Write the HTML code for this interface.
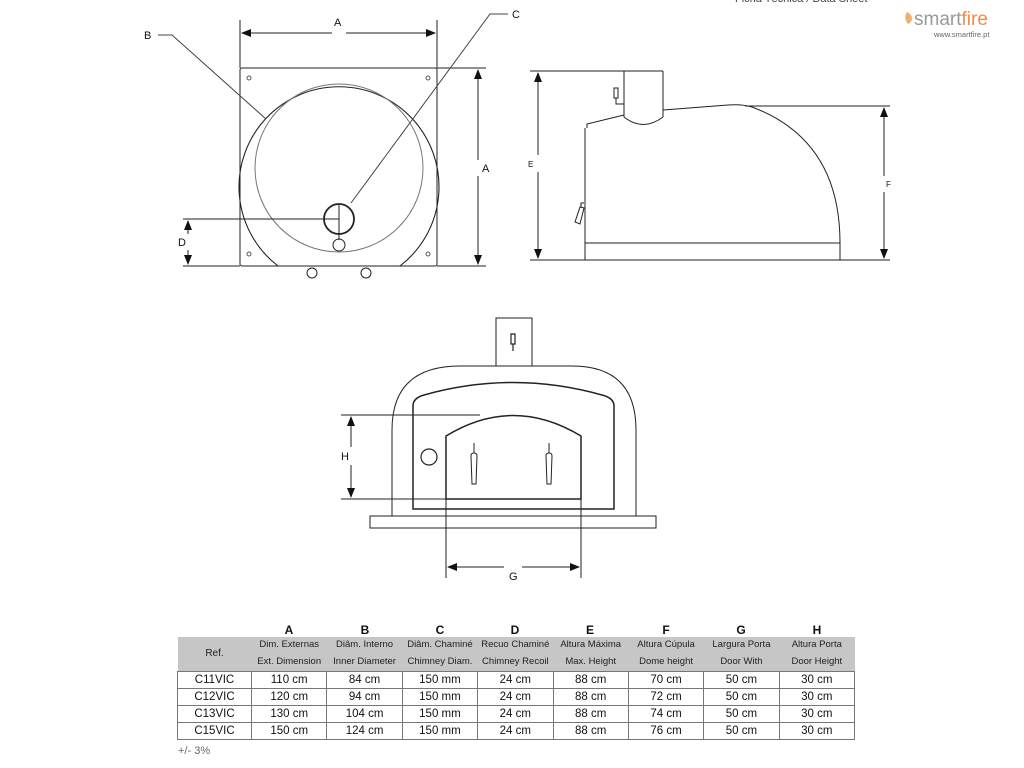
<!DOCTYPE html>
<html><head><meta charset="utf-8"><style>
body{margin:0;width:1024px;height:768px;background:#fff;overflow:hidden;font-family:"Liberation Sans",sans-serif;}
svg{position:absolute;left:0;top:0}
table{position:absolute;left:177px;top:637px;width:678px;table-layout:fixed;border-collapse:collapse;font-size:11.5px;color:#111}
td{text-align:center;padding:0;border:1px solid #777;height:16px;line-height:16px;white-space:nowrap;overflow:hidden}
tr.h td{background:#c6c6c6;font-size:9.5px;color:#222;height:16px;border-top:none;border-bottom:none;border-left:none;border-right:none}
</style></head><body>
<svg width="1024" height="768" viewBox="0 0 1024 768" font-family="Liberation Sans, sans-serif" fill="none" stroke="#222" stroke-width="1">
<defs><marker id="ar" markerWidth="10" markerHeight="8" refX="9" refY="4" orient="auto-start-reverse" markerUnits="userSpaceOnUse"><path d="M0,0 L10,4 L0,8Z" fill="#111" stroke="none"/></marker></defs>
<text x="735" y="2" font-size="11" fill="#444" stroke="none">Ficha Técnica / Data Sheet</text>
<path d="M907,12 q-4,6 1,12 q6,-3 3,-9 q-2,-2 -4,-3z" fill="#f0b070" stroke="none"/>
<text x="914" y="25" font-size="19" stroke="none"><tspan fill="#999">smart</tspan><tspan fill="#f08a50">fire</tspan></text>
<text x="934" y="37" font-size="7.5" fill="#666" stroke="none">www.smartfire.pt</text>
<!-- top view -->
<rect x="240" y="68" width="197" height="198" rx="2"/>
<path d="M278,266 A100,100 0 1 1 400,266 Z" stroke-width="1.1"/>
<circle cx="339" cy="168" r="84" stroke="#777"/>
<circle cx="339" cy="219" r="15" stroke-width="1.8"/>
<line x1="339" y1="205" x2="339" y2="240"/>
<circle cx="339" cy="245" r="6"/>
<g stroke="#555"><circle cx="249" cy="78" r="2"/><circle cx="428" cy="78" r="2"/><circle cx="249" cy="254" r="2"/><circle cx="428" cy="254" r="2"/></g>
<circle cx="312" cy="273" r="5"/><circle cx="366" cy="273" r="5"/>
<line x1="240" y1="20" x2="240" y2="68"/><line x1="437" y1="20" x2="437" y2="68"/>
<line x1="242" y1="33" x2="332" y2="33" marker-start="url(#ar)"/><line x1="346" y1="33" x2="435" y2="33" marker-end="url(#ar)"/>
<text x="334" y="26" font-size="11" fill="#111" stroke="none">A</text>
<line x1="437" y1="68" x2="486" y2="68"/><line x1="437" y1="266" x2="486" y2="266"/>
<line x1="478" y1="70" x2="478" y2="160" marker-start="url(#ar)"/><line x1="478" y1="176" x2="478" y2="264" marker-end="url(#ar)"/>
<text x="482" y="172" font-size="11" fill="#111" stroke="none">A</text>
<path d="M158,35 H172 L266,119" stroke="#444"/><text x="144" y="39" font-size="11" fill="#111" stroke="none">B</text>
<path d="M508,14 H490 L351,203" stroke="#444"/><text x="512" y="18" font-size="11" fill="#111" stroke="none">C</text>
<line x1="183" y1="219" x2="339" y2="219"/><line x1="183" y1="266" x2="240" y2="266"/>
<line x1="188" y1="221" x2="188" y2="234" marker-start="url(#ar)"/><line x1="188" y1="250" x2="188" y2="264" marker-end="url(#ar)"/>
<text x="178" y="246" font-size="11" fill="#111" stroke="none">D</text>
<!-- side view -->
<line x1="530" y1="71" x2="663" y2="71"/><line x1="530" y1="260" x2="890" y2="260"/>
<line x1="538" y1="73" x2="538" y2="155" marker-start="url(#ar)"/><line x1="538" y1="172" x2="538" y2="258" marker-end="url(#ar)"/>
<text x="528" y="167" font-size="8" fill="#111" stroke="none">E</text>
<path d="M624,71 V117 Q643,132 663,117 V71"/>
<path d="M663,110 L728,105 Q742,104 752,107 Q840,140 840,243"/>
<path d="M587,128 L587,124 L624,115"/>
<line x1="585" y1="128" x2="585" y2="260"/>
<rect x="585" y="243" width="255" height="17"/>
<path d="M614,88 h4 v10 h-4z M616,98 v6 h8" stroke-width="1"/>
<path d="M575,222 l5,-15 l4,1 l-4,16z M581,207 v-4 h3" stroke-width="1"/>
<line x1="745" y1="106" x2="890" y2="106"/>
<line x1="884" y1="108" x2="884" y2="176" marker-start="url(#ar)"/><line x1="884" y1="192" x2="884" y2="258" marker-end="url(#ar)"/>
<text x="886" y="187" font-size="8" fill="#111" stroke="none">F</text>
<!-- front view -->
<rect x="496" y="318" width="36" height="48"/>
<path d="M511,334 h4 v10 h-4z M513,344 v7" stroke-width="1.2"/>
<path d="M392,516 V430 Q392,366 460,366 H572 Q636,366 636,430 V516"/>
<rect x="370" y="516" width="286" height="12"/>
<path d="M413,509 V406 Q413,398 424,395 Q513,370 602,395 Q614,398 614,406 V509 Z" stroke-width="1.5"/>
<path d="M446,499 V436 Q513,395 581,436 V499 Z" stroke-width="1.5"/>
<circle cx="429" cy="457" r="8" stroke-width="1.2"/>
<path d="M471,456 q0,-3 3,-3 q3,0 3,3 l-1,28 h-4z M474,453 v-10" stroke-width="1"/>
<path d="M546,456 q0,-3 3,-3 q3,0 3,3 l-1,28 h-4z M549,453 v-10" stroke-width="1"/>
<line x1="341" y1="415" x2="480" y2="415"/><line x1="341" y1="499" x2="446" y2="499"/>
<line x1="351" y1="417" x2="351" y2="447" marker-start="url(#ar)"/><line x1="351" y1="465" x2="351" y2="497" marker-end="url(#ar)"/>
<text x="341" y="460" font-size="11" fill="#111" stroke="none">H</text>
<line x1="446" y1="499" x2="446" y2="578"/><line x1="581" y1="499" x2="581" y2="578"/>
<line x1="448" y1="567" x2="504" y2="567" marker-start="url(#ar)"/><line x1="522" y1="567" x2="579" y2="567" marker-end="url(#ar)"/>
<text x="509" y="580" font-size="11" fill="#111" stroke="none">G</text>
<g font-size="12" font-weight="bold" fill="#111" stroke="none" text-anchor="middle">
<text x="289" y="634">A</text><text x="365" y="634">B</text><text x="440" y="634">C</text><text x="515" y="634">D</text><text x="590" y="634">E</text><text x="666" y="634">F</text><text x="741" y="634">G</text><text x="817" y="634">H</text></g>
<text x="178" y="754" font-size="11" fill="#666" stroke="none">+/- 3%</text>
</svg>
<table>
<colgroup><col style="width:74px"><col><col><col><col><col><col><col><col></colgroup>
<tr class="h"><td rowspan="2" style="font-size:10px;height:34px">Ref.</td><td>Dim. Externas</td><td>Diâm. Interno</td><td>Diâm. Chaminé</td><td>Recuo Chaminé</td><td>Altura Máxima</td><td>Altura Cúpula</td><td>Largura Porta</td><td>Altura Porta</td></tr>
<tr class="h"><td>Ext. Dimension</td><td>Inner Diameter</td><td>Chimney Diam.</td><td>Chimney Recoil</td><td>Max. Height</td><td>Dome height</td><td>Door With</td><td>Door Height</td></tr>
<tr><td>C11VIC</td><td>110 cm</td><td>84 cm</td><td>150 mm</td><td>24 cm</td><td>88 cm</td><td>70 cm</td><td>50 cm</td><td>30 cm</td></tr>
<tr><td>C12VIC</td><td>120 cm</td><td>94 cm</td><td>150 mm</td><td>24 cm</td><td>88 cm</td><td>72 cm</td><td>50 cm</td><td>30 cm</td></tr>
<tr><td>C13VIC</td><td>130 cm</td><td>104 cm</td><td>150 mm</td><td>24 cm</td><td>88 cm</td><td>74 cm</td><td>50 cm</td><td>30 cm</td></tr>
<tr><td>C15VIC</td><td>150 cm</td><td>124 cm</td><td>150 mm</td><td>24 cm</td><td>88 cm</td><td>76 cm</td><td>50 cm</td><td>30 cm</td></tr>
</table>
</body></html>
